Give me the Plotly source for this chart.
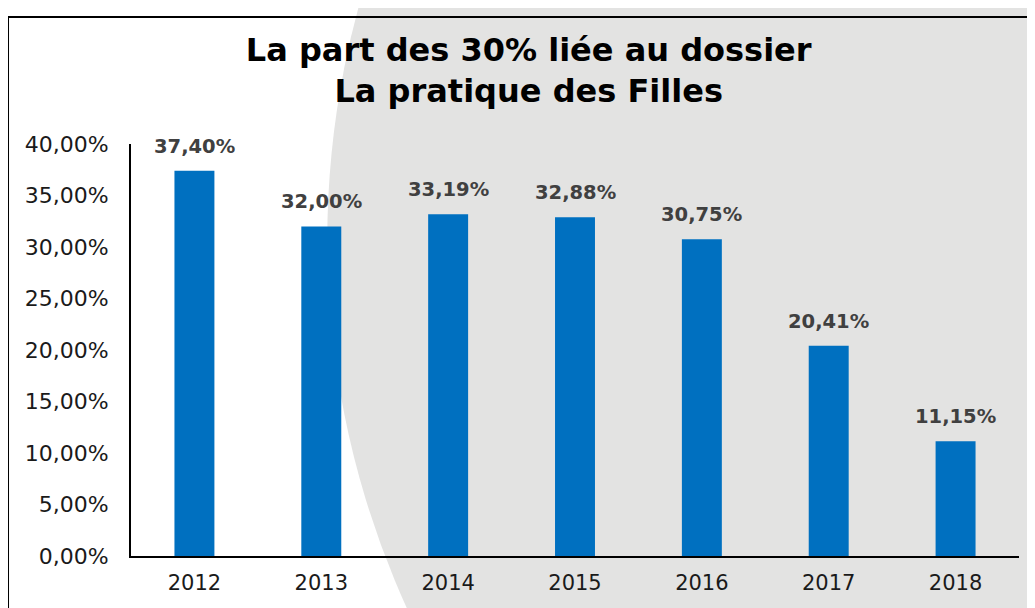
import plotly.graph_objects as go

years = ["2012", "2013", "2014", "2015", "2016", "2017", "2018"]
shares = [37.40, 32.00, 33.19, 32.88, 30.75, 20.41, 11.15]
y_ticks = [0, 5, 10, 15, 20, 25, 30, 35, 40]


def fr(v):
    # french style percent: 37,40%
    return f"{v:.2f}".replace(".", ",") + "%"


FONT = "DejaVu Sans, Verdana, sans-serif"

fig = go.Figure()
fig.add_bar(
    x=years,
    y=shares,
    marker_color="#0070C0",
    marker_line_width=0,
    hoverinfo="skip",
)

# value labels above the bars (category axis -> use the category index)
for i, v in enumerate(shares):
    fig.add_annotation(
        x=i,
        y=v,
        text=fr(v),
        showarrow=False,
        yanchor="bottom",
        yshift=11,
        font=dict(family=FONT, size=19.5, color="#404040", weight="bold"),
    )

# big grey disc in the background + frame of the slide
fig.add_shape(
    type="circle",
    xref="paper", yref="paper",
    x0=0.221, x1=2.221, y0=-1.39, y1=2.92,
    fillcolor="#E3E3E2",
    line_width=0,
    layer="below",
)
fig.add_shape(
    type="rect",
    xref="paper", yref="paper",
    x0=-0.1385, x1=1.2, y0=-0.3, y1=1.308,
    line=dict(color="black", width=2),
    fillcolor="rgba(0,0,0,0)",
    layer="below",
)

fig.update_layout(
    width=1027,
    height=600,
    margin=dict(l=123, r=16, t=136, b=52),
    paper_bgcolor="white",
    plot_bgcolor="rgba(0,0,0,0)",
    showlegend=False,
    bargap=0.685,
    font=dict(family=FONT, color="#1a1a1a"),
    title=dict(
        text="La part des 30% liée au dossier<br>La pratique des Filles",
        x=0.507,
        xanchor="center",
        xref="container",
        y=0.912,
        yanchor="top",
        yref="container",
        font=dict(family=FONT, size=32, color="black", weight="bold"),
    ),
)
fig.update_xaxes(
    type="category",
    range=[-0.5, len(years) - 0.5],
    showline=True,
    linecolor="black",
    linewidth=1.5,
    showgrid=False,
    ticks="",
    ticklabelstandoff=7,
    tickfont=dict(size=21, color="#1a1a1a"),
)
fig.update_yaxes(
    range=[0, 40],
    tickvals=y_ticks,
    ticktext=[fr(t) for t in y_ticks],
    showline=True,
    linecolor="black",
    linewidth=2,
    showgrid=False,
    zeroline=False,
    ticks="",
    ticklabelstandoff=16,
    tickfont=dict(size=22, color="#1a1a1a"),
)

fig.write_html("out.html")
